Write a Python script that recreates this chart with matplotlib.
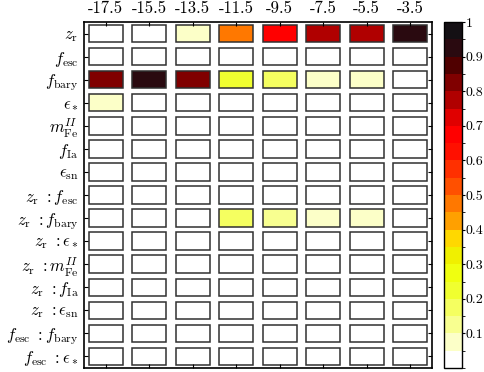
import numpy as np
import matplotlib
matplotlib.use('Agg')
import matplotlib.pyplot as plt
from matplotlib.colors import ListedColormap, BoundaryNorm
from matplotlib.patches import Rectangle

plt.rcParams['mathtext.fontset'] = 'cm'
plt.rcParams['font.family'] = 'serif'
plt.rcParams['font.serif'] = ['cmr10', 'DejaVu Serif']
plt.rcParams['axes.formatter.use_mathtext'] = True

# magnitude bins (columns)
mags = ['-17.5', '-15.5', '-13.5', '-11.5', '-9.5', '-7.5', '-5.5', '-3.5']

# parameters / interactions (rows)
params = [r'$z_{\rm r}$', r'$f_{\rm esc}$', r'$f_{\rm bary}$', r'$\epsilon_*$',
          r'$m_{\rm Fe}^{II}$', r'$f_{\rm Ia}$', r'$\epsilon_{\rm sn}$',
          r'$z_{\rm r}\ :f_{\rm esc}$', r'$z_{\rm r}\ :f_{\rm bary}$',
          r'$z_{\rm r}\ :\epsilon_*$', r'$z_{\rm r}\ :m_{\rm Fe}^{II}$',
          r'$z_{\rm r}\ :f_{\rm Ia}$', r'$z_{\rm r}\ :\epsilon_{\rm sn}$',
          r'$f_{\rm esc}\ :f_{\rm bary}$', r'$f_{\rm esc}\ :\epsilon_*$']

# sensitivity values
z_r = [0.0, 0.0, 0.07, 0.47, 0.67, 0.77, 0.77, 0.92]
f_bary = [0.82, 0.92, 0.82, 0.24, 0.17, 0.07, 0.07, 0.0]
eps_star = [0.07, 0, 0, 0, 0, 0, 0, 0]
zr_fbary = [0, 0, 0, 0.17, 0.12, 0.07, 0.07, 0]
zeros = [0] * 8

vals = np.array([z_r, zeros, f_bary, eps_star, zeros, zeros, zeros, zeros,
                 zr_fbary, zeros, zeros, zeros, zeros, zeros, zeros])

# 20-step reversed "hot" palette, low to high
palette = ['#ffffff', '#fcffc8', '#f8ff90', '#f5ff60', '#f0ff30', '#f0ff10',
           '#f0f000', '#ffd800', '#ffa000', '#ff7800', '#ff5000', '#ff3000',
           '#ff1000', '#ff0000', '#e00000', '#b00000', '#800000', '#500000',
           '#2a0a10', '#141014']
cmap = ListedColormap(palette)
norm = BoundaryNorm(np.linspace(0, 1, len(palette) + 1), len(palette))

fig = plt.figure(figsize=(4.85, 3.72), dpi=100)
ax = fig.add_axes([84 / 485, 1 - 368 / 372, 348 / 485, 346 / 372])
cax = fig.add_axes([444 / 485, 1 - 368 / 372, 18 / 485, 346 / 372])

w, h = 0.78, 0.76
for i in range(vals.shape[0]):
    for j in range(vals.shape[1]):
        ax.add_patch(Rectangle((j - w / 2, i - h / 2), w, h,
                               facecolor=cmap(norm(vals[i, j])),
                               edgecolor='#303030', linewidth=1.1))

ax.set_xlim(-0.5, len(mags) - 0.5)
ax.set_ylim(len(params) - 0.5, -0.5)
ax.set_xticks(range(len(mags)))
ax.set_xticklabels(mags, fontsize=12)
ax.set_yticks(range(len(params)))
ax.set_yticklabels(params, fontsize=12)
ax.xaxis.tick_top()
ax.tick_params(axis='both', direction='in', top=True, bottom=True,
               left=True, right=True, length=3, pad=4)
for s in ax.spines.values():
    s.set_linewidth(1.2)

sm = matplotlib.cm.ScalarMappable(norm=norm, cmap=cmap)
cb = fig.colorbar(sm, cax=cax, ticks=[0.1, 0.2, 0.3, 0.4, 0.5, 0.6, 0.7, 0.8, 0.9, 1])
cb.ax.set_yticklabels(['0.1', '0.2', '0.3', '0.4', '0.5', '0.6', '0.7', '0.8', '0.9', '1'],
                      fontsize=10)
cb.ax.tick_params(direction='out', length=2, pad=0.5)
cb.outline.set_linewidth(1.0)

fig.savefig('out.png', dpi=100)
